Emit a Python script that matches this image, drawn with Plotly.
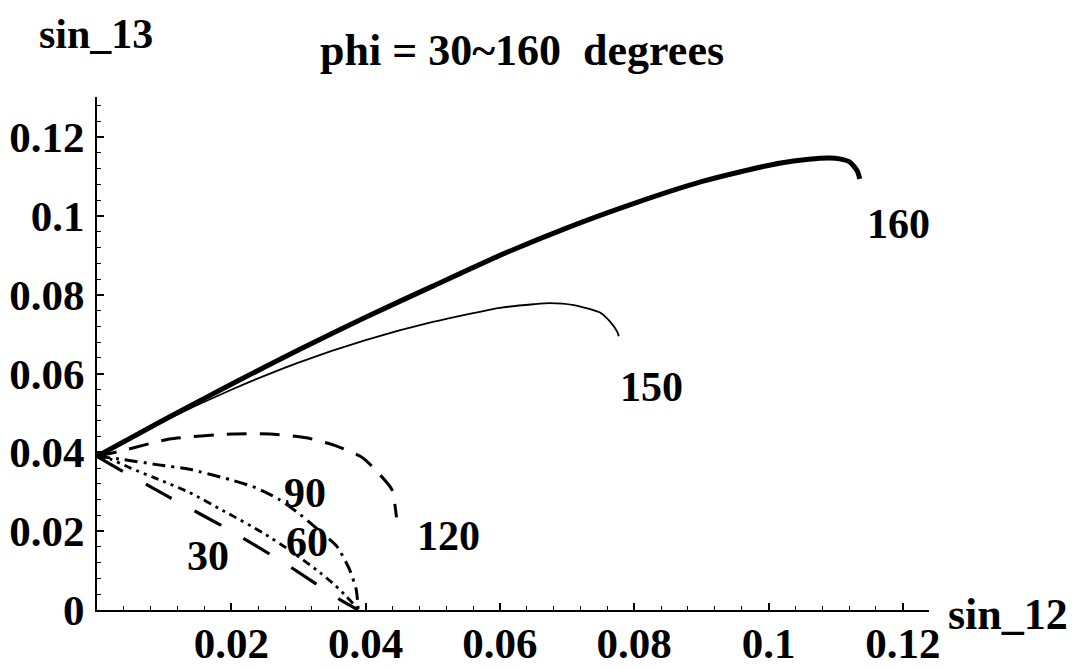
import plotly.graph_objects as go

# ---- data ----
x160 = [0, 0.01, 0.02, 0.03, 0.04, 0.05, 0.06, 0.07, 0.08, 0.09, 0.096, 0.1016, 0.106, 0.1091, 0.1106, 0.1121, 0.1132, 0.1136]
y160 = [0.039, 0.0483, 0.0573, 0.0660, 0.0743, 0.0822, 0.0900, 0.0970, 0.1032, 0.1087, 0.1113, 0.1134, 0.1144, 0.1147, 0.1145, 0.1137, 0.1115, 0.1094]

x150 = [0, 0.01, 0.02, 0.03, 0.04, 0.05, 0.06, 0.065, 0.0674, 0.071, 0.0749, 0.0765, 0.0775, 0.0777]
y150 = [0.039, 0.0480, 0.0559, 0.0628, 0.0685, 0.0731, 0.0767, 0.0776, 0.0779, 0.0774, 0.0755, 0.0730, 0.0705, 0.0695]

x120 = [0, 0.0044, 0.0108, 0.0203, 0.0257, 0.0312, 0.0357, 0.0396, 0.0421, 0.0439, 0.0446]
y120 = [0.039, 0.0407, 0.0434, 0.0447, 0.0447, 0.0437, 0.0416, 0.0386, 0.0344, 0.0306, 0.0235]

x90 = [0, 0.0039, 0.0089, 0.0138, 0.0198, 0.0237, 0.0272, 0.0302, 0.0332, 0.0357, 0.0376, 0.0386, 0.0389]
y90 = [0.039, 0.0382, 0.0369, 0.0357, 0.0331, 0.0310, 0.0280, 0.0243, 0.0200, 0.0162, 0.0103, 0.0052, 0.0]

x60 = [0, 0.002, 0.005, 0.0085, 0.0138, 0.019, 0.0247, 0.029, 0.0332, 0.0355, 0.0371, 0.0382, 0.0389]
y60 = [0.039, 0.0383, 0.0360, 0.0336, 0.0298, 0.0250, 0.0196, 0.0148, 0.0095, 0.0062, 0.0035, 0.0015, 0.0]

x30 = [0, 0.0026, 0.0108, 0.0195, 0.0280, 0.0365, 0.0389]
y30 = [0.039, 0.0364, 0.0286, 0.0205, 0.0118, 0.0023, 0.0]

label_text = ["160", "150", "120", "90", "60", "30"]
label_x = [0.1194, 0.0825, 0.0524, 0.0309, 0.0312, 0.0166]
label_y = [0.0980, 0.0565, 0.0187, 0.0296, 0.0172, 0.0136]

x_ticks = [0.02, 0.04, 0.06, 0.08, 0.10, 0.12]
x_ticktext = ["0.02", "0.04", "0.06", "0.08", "0.1", "0.12"]
y_ticks = [0, 0.02, 0.04, 0.06, 0.08, 0.10, 0.12]
y_ticktext = ["0", "0.02", "0.04", "0.06", "0.08", "0.1", "0.12"]

title_text = "phi = 30~160\u00a0 degrees"
xlabel = "sin_12"
ylabel = "sin_13"

# ---- figure ----
FONT = dict(family="Liberation Serif, Times New Roman, serif", size=42, color="black", weight="bold")
TICKFONT = dict(FONT, size=43)
BIGFONT = dict(FONT, size=44)

curves = [
    (x160, y160, dict(color="black", width=5, dash="solid")),
    (x150, y150, dict(color="black", width=1.8, dash="solid")),
    (x120, y120, dict(color="black", width=3, dash="20px,13px")),
    (x90, y90, dict(color="black", width=3, dash="13px,6px,3px,6px")),
    (x60, y60, dict(color="black", width=2.8, dash="8px,5px,3px,5px,3px,5px")),
    (x30, y30, dict(color="black", width=3.2, dash="30px,26px")),
]

fig = go.Figure()
for xs, ys, ln in curves:
    fig.add_trace(go.Scatter(x=xs, y=ys, mode="lines", line=dict(shape="spline", smoothing=0.6, **ln),
                             showlegend=False, hoverinfo="skip", cliponaxis=False))

for t, lx, ly in zip(label_text, label_x, label_y):
    fig.add_annotation(x=lx, y=ly, xref="x", yref="y", text=t, showarrow=False,
                       xanchor="center", yanchor="middle", font=FONT)

fig.add_annotation(x=0.5105, y=1.090, xref="paper", yref="paper", text=title_text, showarrow=False,
                   xanchor="center", yanchor="middle", font=BIGFONT)
fig.add_annotation(x=-0.0016, y=1.172, xref="paper", yref="paper", text=ylabel, showarrow=False,
                   xanchor="center", yanchor="top", font=FONT)
fig.add_annotation(x=1.0946, y=-0.008, xref="paper", yref="paper", text=xlabel, showarrow=False,
                   xanchor="center", yanchor="middle", font=BIGFONT)

axis_common = dict(showgrid=False, zeroline=False, showline=True, linecolor="black", linewidth=2,
                   ticks="inside", ticklen=7, tickwidth=1.5, tickcolor="black",
                   tickfont=TICKFONT, mirror=False, automargin=False)

fig.update_xaxes(range=[0, 0.1239], tickvals=x_ticks, ticktext=x_ticktext, ticklabelstandoff=-6,
                 minor=dict(ticks="inside", ticklen=4, tickwidth=1.2, tickcolor="black", dtick=0.004, tick0=0),
                 **axis_common)
fig.update_yaxes(range=[0, 0.1302], tickvals=y_ticks, ticktext=y_ticktext, ticklabelstandoff=2,
                 minor=dict(ticks="inside", ticklen=4, tickwidth=1.2, tickcolor="black", dtick=0.004, tick0=0),
                 **axis_common)

# page body has an 8px default margin, so the figure is offset by 8px
fig.update_layout(width=1070, height=661, autosize=False,
                  margin=dict(l=89, r=149, t=89, b=59, pad=0),
                  paper_bgcolor="white", plot_bgcolor="white")

fig.write_html("out.html")
